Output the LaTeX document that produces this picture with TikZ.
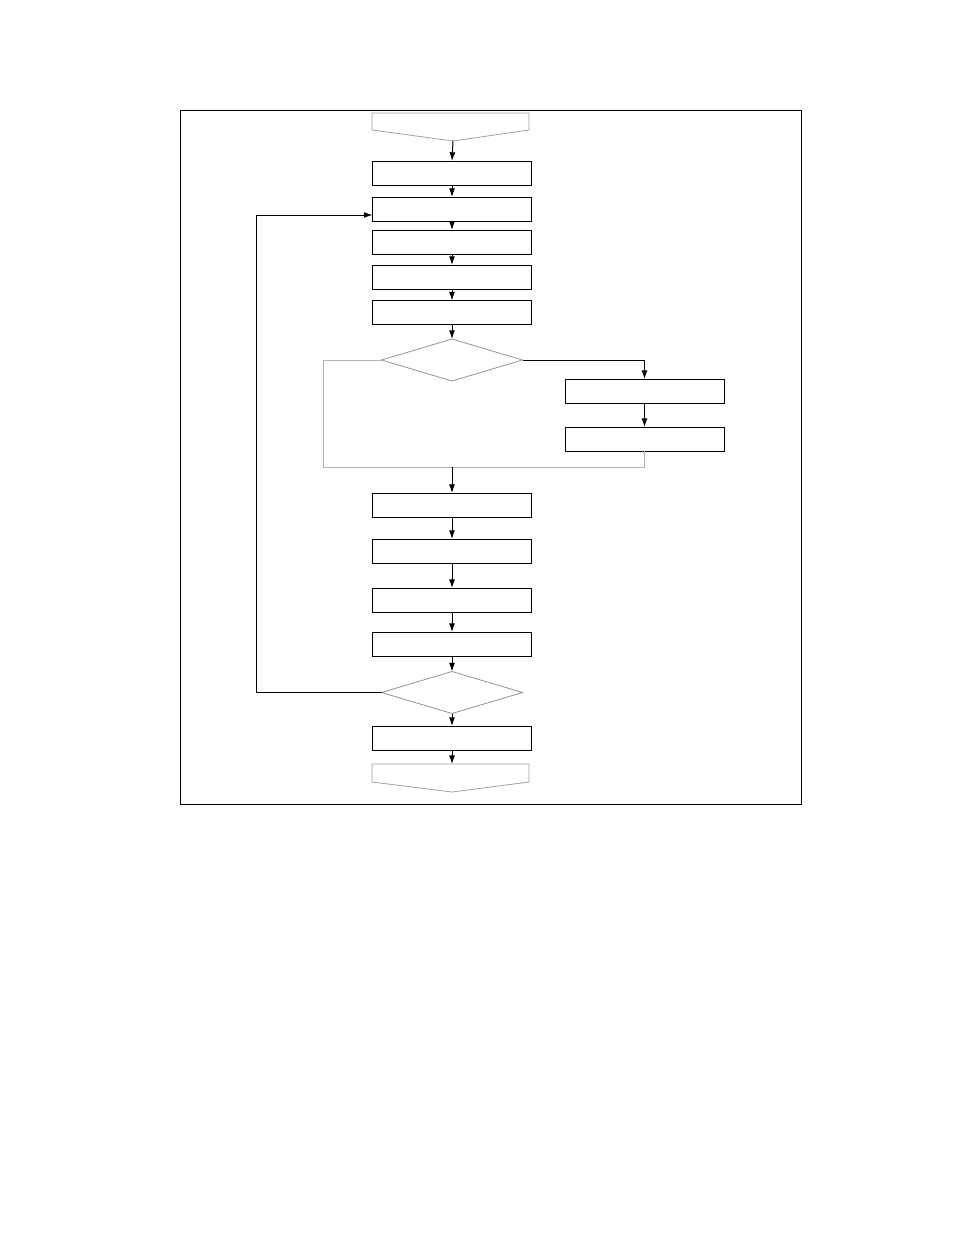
\documentclass[tikz,border=0pt]{standalone}
\usetikzlibrary{shapes.geometric,arrows.meta}
\begin{document}
\begin{tikzpicture}[x=0.75pt,y=-0.75pt,
  procbox/.style={draw=black,line width=0.7pt,minimum width=119.25pt,minimum height=18pt,inner sep=0pt,outer sep=0pt},
  decision/.style={diamond,draw=gray!85,line width=0.6pt,minimum width=105.75pt,minimum height=31.5pt,inner sep=0pt,outer sep=0pt},
  flow/.style={draw=black,line width=0.75pt,-{Latex[length=6.5pt,width=4.5pt]}},
  grayline/.style={draw=gray!60,line width=0.75pt},
  offpage/.style={draw=gray!75,line width=0.6pt},
  frame/.style={draw=black,line width=0.75pt}]
\useasboundingbox (0,0) rectangle (954,1235);
\draw[frame] (180,110) rectangle (801,804);
% start off-page connector
\draw[offpage] (372,113) -- (529,113) -- (529,130) -- (453,141) -- (372,130) -- cycle;
\coordinate (s) at (453,141);
% boxes
\node[procbox] (b1) at (452,173) {};
\node[procbox] (b2) at (452,209) {};
\node[procbox] (b3) at (452,242) {};
\node[procbox] (b4) at (452,277) {};
\node[procbox] (b5) at (452,312.5) {};
\node[decision] (d1) at (452,360) {};
\node[procbox] (b6) at (644.5,391) {};
\node[procbox] (b7) at (644.5,439) {};
\coordinate (mL) at (323,467);
\coordinate (m) at (452,467);
\coordinate (mR) at (644.5,467);
\node[procbox] (b8) at (452,505) {};
\node[procbox] (b9) at (452,551) {};
\node[procbox] (b10) at (452,600) {};
\node[procbox] (b11) at (452,644) {};
\node[decision] (d2) at (452,692.5) {};
\node[procbox] (b12) at (452,738) {};
% end off-page connector
\draw[offpage] (372,764) -- (529,764) -- (529,782) -- (452,792) -- (372,782) -- cycle;
\coordinate (e) at (452,764);
% connectors
\draw[flow] (s) -- (b1.north);
\draw[flow] (b1) -- (b2);
\draw[flow] (b2) -- (b3);
\draw[flow] (b3) -- (b4);
\draw[flow] (b4) -- (b5);
\draw[flow] (b5) -- (d1);
\draw[flow] (d1.east) -| (b6.north);
\draw[flow] (b6) -- (b7);
\draw[grayline] (d1.west) -| (mL) -- (mR) -- (b7.south);
\draw[flow] (m) -- (b8.north);
\draw[flow] (b8) -- (b9);
\draw[flow] (b9) -- (b10);
\draw[flow] (b10) -- (b11);
\draw[flow] (b11) -- (d2);
\draw[flow] (d2) -- (b12);
\draw[flow] (b12.south) -- (e);
\draw[flow] (d2.west) -- ++(-125,0) |- ([yshift=-4.5pt]b2.west);
\end{tikzpicture}
\end{document}
